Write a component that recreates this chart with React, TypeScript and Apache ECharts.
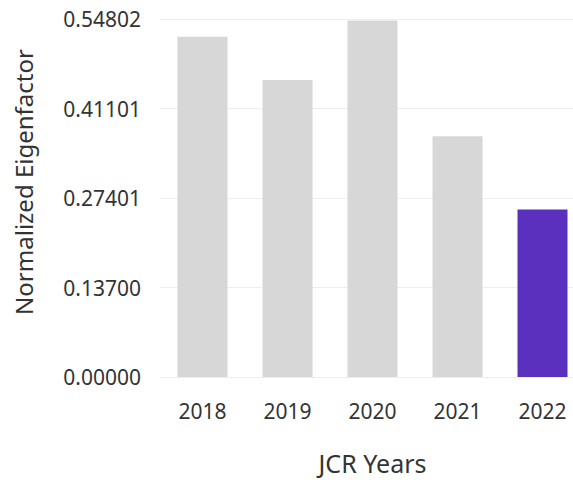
import React, { useEffect, useRef } from "react";
import * as echarts from "echarts";

const categories = ["2018", "2019", "2020", "2021", "2022"];
const values = [0.5209, 0.4545, 0.5459, 0.3686, 0.2564];
const yTickLabels = ["0.00000", "0.13700", "0.27401", "0.41101", "0.54802"];
const yMax = 0.54802;
const highlightIndex = 4;

const FONT = "'Noto Sans', sans-serif";

export default function App() {
  const ref = useRef<HTMLDivElement>(null);
  useEffect(() => {
    if (!ref.current) return;
    const chart = echarts.init(ref.current, undefined, { renderer: "svg" });
    chart.setOption({
      animation: false,
      grid: { left: 160, top: 19, width: 425, height: 364, containLabel: false },
      xAxis: {
        type: "category",
        data: categories,
        name: "JCR Years",
        nameLocation: "middle",
        nameGap: 73,
        nameTextStyle: { fontFamily: FONT, fontSize: 25, color: "#333" },
        axisLine: { show: false },
        axisTick: { show: false },
        axisLabel: { fontFamily: FONT, fontSize: 21, color: "#333", margin: 23 },
      },
      yAxis: {
        type: "value",
        min: 0,
        max: yMax,
        interval: yMax / 4,
        name: "Normalized Eigenfactor",
        nameLocation: "middle",
        nameGap: 125,
        nameTextStyle: { fontFamily: FONT, fontSize: 24, color: "#333", padding: [0, 0, 0, 32] },
        axisLine: { show: false },
        axisTick: { show: false },
        splitLine: { lineStyle: { color: "#eeeeee", width: 1 } },
        axisLabel: {
          fontFamily: FONT,
          fontSize: 21,
          color: "#333",
          margin: 19,
          formatter: (_v: number, idx: number) => yTickLabels[idx] ?? "",
        },
      },
      series: [
        {
          type: "bar",
          barWidth: 50,
          data: values.map((v, i) => ({
            value: v,
            itemStyle: { color: i === highlightIndex ? "#5b30be" : "#d7d7d7" },
          })),
        },
      ],
    });
    return () => chart.dispose();
  }, []);
  return (
    <div style={{ position: "absolute", left: 0, top: 0, width: 573, height: 480, overflow: "hidden", background: "#fff" }}>
      <div ref={ref} style={{ width: 586, height: 480 }} />
    </div>
  );
}
